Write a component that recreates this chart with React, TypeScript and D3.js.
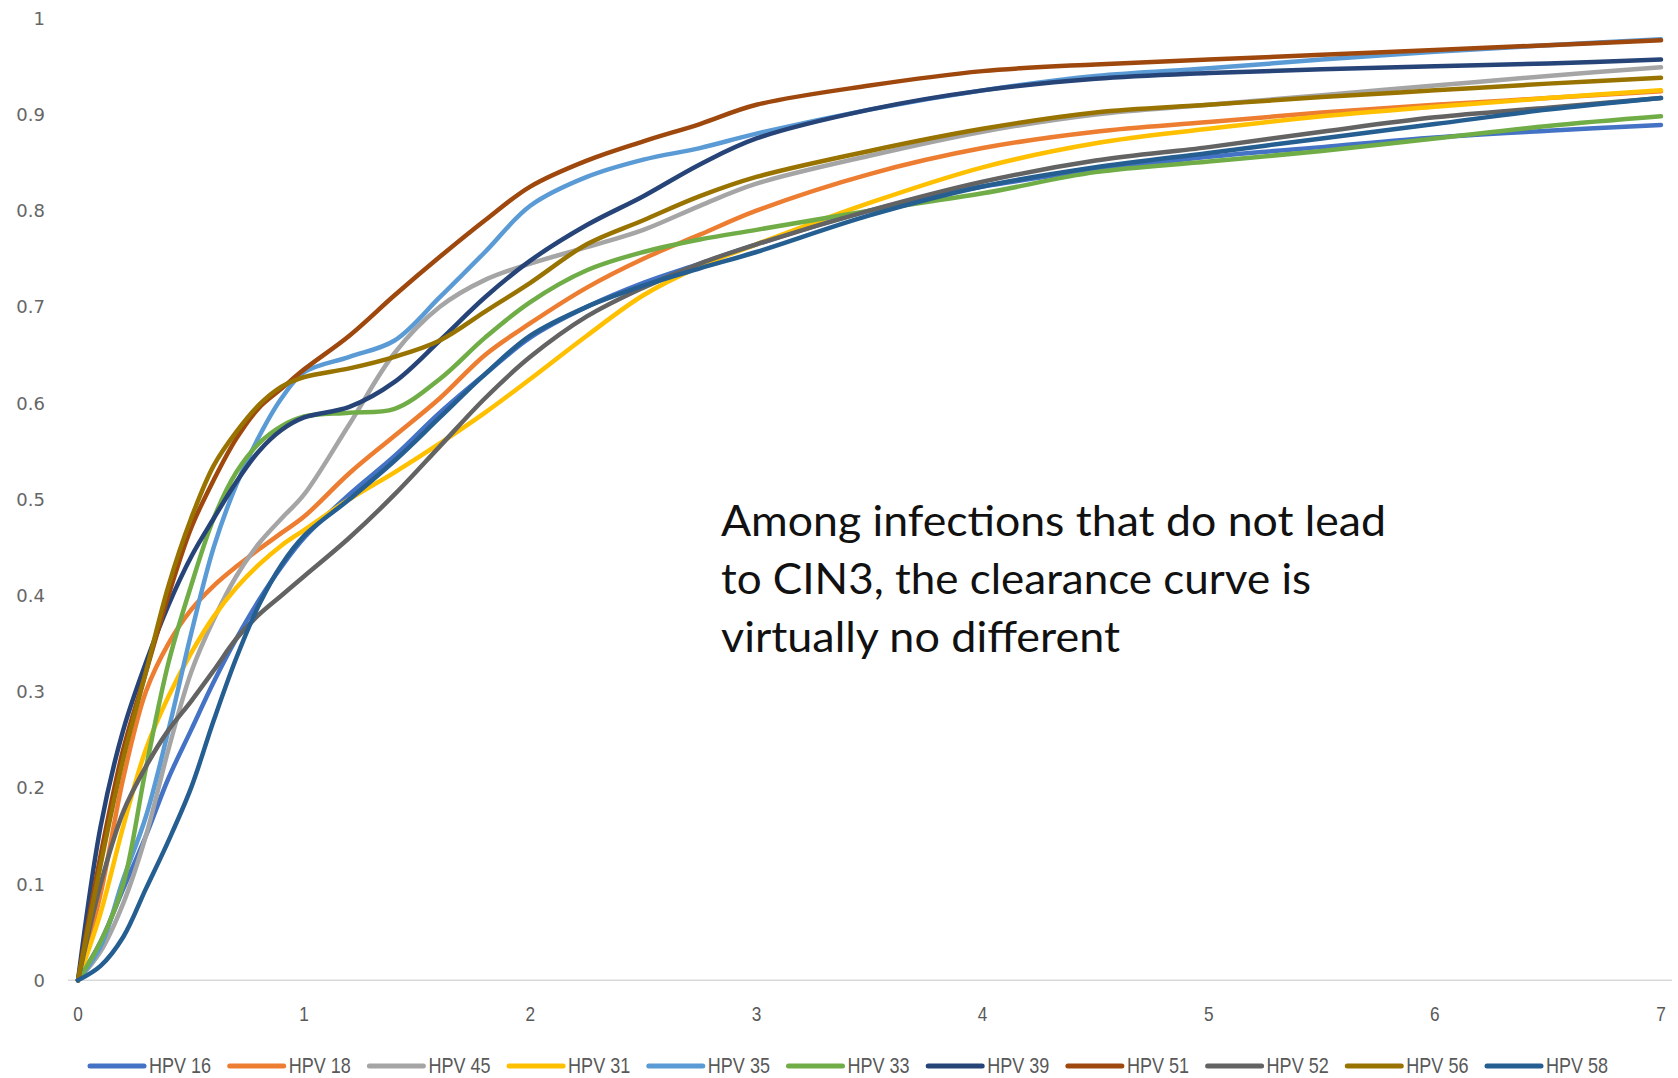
import React from "react";
import * as d3 from "d3";

const YEARS = [0, 0.1, 0.2, 0.3, 0.4, 0.5, 0.6, 0.7, 0.8, 0.9, 1.0, 1.2, 1.4, 1.6, 1.8, 2.0, 2.25, 2.5, 2.75, 3, 3.5, 4, 4.5, 5, 5.5, 6, 6.5, 7];

const HPV16 = [0, .04, .095, .15, .21, .26, .31, .355, .395, .43, .46, .505, .545, .59, .63, .668, .70, .725, .745, .765, .80, .825, .842, .856, .866, .876, .883, .889];
const HPV18 = [0, .09, .21, .3, .35, .385, .41, .43, .448, .465, .482, .527, .566, .605, .65, .683, .72, .75, .775, .80, .838, .865, .882, .892, .902, .91, .917, .924];
const HPV45 = [0, .03, .08, .15, .24, .32, .375, .42, .454, .48, .505, .578, .652, .70, .728, .745, .762, .78, .805, .828, .857, .882, .90, .91, .92, .93, .94, .949];
const HPV31 = [0, .07, .16, .24, .295, .34, .378, .408, .432, .452, .468, .50, .528, .558, .59, .625, .67, .712, .742, .765, .808, .845, .87, .885, .898, .908, .917, .925];
const HPV35 = [0, .035, .105, .17, .26, .36, .45, .515, .565, .605, .632, .648, .665, .71, .757, .805, .835, .853, .865, .88, .905, .925, .94, .948, .957, .965, .972, .978];
const HPV33 = [0, .04, .10, .22, .33, .41, .48, .528, .558, .576, .586, .59, .594, .625, .668, .705, .738, .757, .77, .78, .80, .818, .84, .851, .862, .875, .888, .898];
const HPV39 = [0, .16, .26, .33, .39, .44, .48, .518, .55, .572, .585, .596, .622, .665, .71, .748, .785, .815, .848, .875, .905, .925, .937, .943, .947, .95, .953, .957];
const HPV51 = [0, .13, .24, .32, .40, .47, .52, .563, .595, .615, .635, .67, .712, .752, .79, .825, .852, .872, .89, .91, .93, .945, .952, .957, .962, .967, .972, .977];
const HPV52 = [0, .10, .175, .222, .26, .29, .322, .355, .38, .40, .42, .46, .505, .555, .605, .648, .69, .72, .745, .765, .80, .83, .852, .866, .882, .897, .907, .917];
const HPV56 = [0, .12, .23, .32, .41, .48, .535, .57, .598, .617, .627, .636, .648, .665, .695, .725, .765, .79, .815, .835, .862, .885, .902, .91, .918, .925, .932, .938];
const HPV58 = [0, .015, .045, .095, .145, .2, .27, .335, .39, .432, .462, .50, .54, .585, .63, .67, .70, .722, .74, .757, .795, .825, .845, .86, .875, .89, .905, .917];

const SERIES_NAMES = ["HPV 16", "HPV 18", "HPV 45", "HPV 31", "HPV 35", "HPV 33", "HPV 39", "HPV 51", "HPV 52", "HPV 56", "HPV 58"];
const SERIES_VALUES = [HPV16, HPV18, HPV45, HPV31, HPV35, HPV33, HPV39, HPV51, HPV52, HPV56, HPV58];
const SERIES_COLORS = ["#4472C4", "#ED7D31", "#A5A5A5", "#FFC000", "#5B9BD5", "#70AD47", "#264478", "#9E480E", "#636363", "#997300", "#255E91"];

const X_TICKS = [0, 1, 2, 3, 4, 5, 6, 7];
const Y_TICKS = [0, 0.1, 0.2, 0.3, 0.4, 0.5, 0.6, 0.7, 0.8, 0.9, 1];

const NOTE_LINES = ["Among infections that do not lead", "to CIN3, the clearance curve is", "virtually no different"];
const NOTE_WIDTHS = [665, 590, 399];

const W = 1678;
const H = 1078;

export default function App() {
  const x = d3.scaleLinear().domain([0, 7]).range([78, 1661]);
  const y = d3.scaleLinear().domain([0, 1]).range([980.3, 18.2]);
  const line = d3
    .line<number>()
    .x((_, i) => x(YEARS[i]))
    .y((d) => y(d))
    .curve(d3.curveCatmullRom.alpha(0.5));

  const narrow = "'Liberation Sans Narrow', 'Liberation Sans', Arial, sans-serif";

  return (
    <div style={{ position: "absolute", left: 0, top: 0 }}>
      <svg width={W} height={H} viewBox={`0 0 ${W} ${H}`} style={{ display: "block", background: "#fff" }}>
        <rect x={0} y={0} width={W} height={H} fill="#fff" />
        <line x1={68} x2={1672} y1={y(0)} y2={y(0)} stroke="#D9D9D9" strokeWidth={1.5} />
        {Y_TICKS.map((t) => (
          <text
            key={"y" + t}
            x={45}
            y={y(t)}
            dy="0.36em"
            textAnchor="end"
            fontFamily="'DejaVu Sans', Verdana, sans-serif"
            fontSize={18}
            fill="#666666"
          >
            {t === 0 || t === 1 ? String(t) : d3.format(".1f")(t)}
          </text>
        ))}
        {X_TICKS.map((t) => (
          <g key={"x" + t} transform={`translate(${x(t)},1021) scale(0.82,1)`}>
            <text x={0} y={0} textAnchor="middle" fontFamily={narrow} fontSize={21} fill="#595959">
              {t}
            </text>
          </g>
        ))}
        {SERIES_VALUES.map((vals, i) => (
          <path
            key={SERIES_NAMES[i]}
            d={line(vals) || ""}
            fill="none"
            stroke={SERIES_COLORS[i]}
            strokeWidth={4.5}
            strokeLinejoin="round"
            strokeLinecap="round"
          />
        ))}
        {SERIES_NAMES.map((name, i) => {
          const lx = 88 + i * 139.7;
          return (
            <g key={"lg" + name}>
              <line x1={lx + 2} x2={lx + 56} y1={1066} y2={1066} stroke={SERIES_COLORS[i]} strokeWidth={5} strokeLinecap="round" />
              <g transform={`translate(${lx + 61},1073) scale(0.82,1)`}>
                <text x={0} y={0} fontFamily={narrow} fontSize={22} fill="#595959">
                  {name}
                </text>
              </g>
            </g>
          );
        })}
        {NOTE_LINES.map((s, i) => (
          <text
            key={"n" + i}
            x={721}
            y={536 + i * 58}
            fontFamily="Lato, 'Open Sans', sans-serif"
            fontSize={43}
            fill="#111"
            textLength={NOTE_WIDTHS[i]}
            lengthAdjust="spacingAndGlyphs"
          >
            {s}
          </text>
        ))}
      </svg>
    </div>
  );
}
